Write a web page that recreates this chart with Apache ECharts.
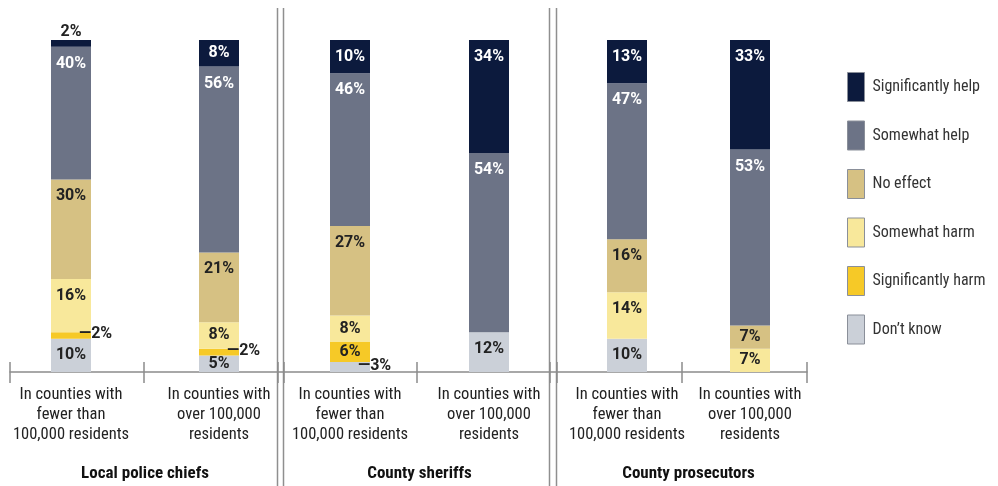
<!DOCTYPE html>
<html>
<head>
<meta charset="utf-8">
<script src="https://cdn.jsdelivr.net/npm/echarts@6/dist/echarts.min.js"></script>
<style>
  html, body { margin: 0; padding: 0; background: #fff; }
  #chart { width: 998px; height: 486px; }
</style>
</head>
<body>
<div id="chart"></div>
<script>
// Agencies (one panel each) and the two county-size bars inside every panel
const agencies = ['Local police chiefs', 'County sheriffs', 'County prosecutors'];
const countySizes = ['In counties with\nfewer than\n100,000 residents', 'In counties with\nover 100,000\nresidents'];
const responses = ['Significantly help', 'Somewhat help', 'No effect', 'Somewhat harm', 'Significantly harm', 'Don\u2019t know'];

// Share of respondents (%), bar order:
// police <100k, police >100k, sheriffs <100k, sheriffs >100k, prosecutors <100k, prosecutors >100k
const significantlyHelp = [2, 8, 10, 34, 13, 33];
const somewhatHelp      = [40, 56, 46, 54, 47, 53];
const noEffect          = [30, 21, 27, 0, 16, 7];
const somewhatHarm      = [16, 8, 8, 0, 14, 7];
const significantlyHarm = [2, 2, 6, 0, 0, 0];
const dontKnow          = [10, 5, 3, 12, 10, 0];

const valuesByResponse = {
  'Significantly help': significantlyHelp,
  'Somewhat help': somewhatHelp,
  'No effect': noEffect,
  'Somewhat harm': somewhatHarm,
  'Significantly harm': significantlyHarm,
  'Don\u2019t know': dontKnow
};
const colors = {
  'Significantly help': '#0c1a3d',
  'Somewhat help': '#6c7386',
  'No effect': '#d6c183',
  'Somewhat harm': '#f8e89b',
  'Significantly harm': '#f6c927',
  'Don\u2019t know': '#cbd0d8'
};
const darkSegments = ['Significantly help', 'Somewhat help'];
// bottom-to-top stacking order
const stackOrder = responses.slice().reverse();

const valueFont = "Roboto, 'Liberation Sans', sans-serif";
// Roboto's width axis, narrowed through fontStyle -> "condensed" in the canvas font string
const narrowFont = "Roboto, 'Liberation Sans', sans-serif";
const axisGrey = '#8c8c8c';

// panel layout: bar panels (centred on bars), tick panels (axis ticks)
const barPanels = [
  { left: -3, width: 296 },
  { left: 280.5, width: 278 },
  { left: 565.5, width: 246 }
];
const tickPanels = [
  { left: 10, width: 267.5 },
  { left: 283.5, width: 266 },
  { left: 556.5, width: 250.5 }
];
const plotTop = 40, plotHeight = 332;

function segmentLabel(v, name) {
  const base = { fontFamily: valueFont, fontWeight: 'bold', fontSize: 16 };
  if (!v) return { show: false };
  if (v < 4) {
    if (name === 'Significantly help') {
      return Object.assign(base, { show: true, position: 'top', distance: 0, color: '#222', formatter: '{c}%' });
    }
    return Object.assign(base, { show: true, position: 'right', distance: 0, offset: [-12, -1], color: '#222', formatter: '\u2014{c}%' });
  }
  return Object.assign(base, {
    show: true,
    position: v >= 12 ? 'insideTop' : 'inside',
    distance: 9,
    color: darkSegments.includes(name) ? '#ffffff' : '#222',
    formatter: '{c}%'
  });
}

function panelGrid(left, width) {
  return { left: left, width: width, top: plotTop, height: plotHeight, containLabel: false, outerBoundsMode: 'none' };
}

const grid = [];
const xAxis = [];
const yAxis = [];
const series = [];

// bar panels
agencies.forEach((agency, g) => {
  grid.push(panelGrid(barPanels[g].left, barPanels[g].width));
  xAxis.push({
    type: 'category', gridIndex: g, data: countySizes,
    axisLine: { show: false }, axisTick: { show: false },
    axisLabel: { interval: 0, margin: 13, lineHeight: 20, fontSize: 16.5, fontStyle: 'condensed', fontFamily: narrowFont, color: '#222' },
    name: agency, nameLocation: 'middle', nameGap: 93,
    nameTextStyle: { fontFamily: narrowFont, fontStyle: 'condensed', fontWeight: 'bold', fontSize: 17, color: '#111' }
  });
  yAxis.push({ type: 'value', gridIndex: g, min: 0, max: 100, show: false });
  stackOrder.forEach(name => {
    const vals = valuesByResponse[name].slice(2 * g, 2 * g + 2);
    series.push({
      type: 'bar', name: name, xAxisIndex: g, yAxisIndex: g, stack: 'panel' + g,
      barWidth: 40,
      itemStyle: { color: colors[name] },
      data: vals.map(v => ({ value: v, label: segmentLabel(v, name) })),
      emphasis: { disabled: true }
    });
  });
});

// continuous baseline under all panels
grid.push(panelGrid(10, 797));
xAxis.push({
  type: 'value', gridIndex: 3, min: 0, max: 1,
  axisLine: { show: true, lineStyle: { color: axisGrey, width: 1.5 } },
  axisTick: { show: false }, axisLabel: { show: false }, splitLine: { show: false }
});
yAxis.push({ type: 'value', gridIndex: 3, min: 0, max: 1, show: false });

// tick marks crossing the baseline at panel and bar boundaries
agencies.forEach((agency, g) => {
  const gi = 4 + g;
  grid.push(panelGrid(tickPanels[g].left, tickPanels[g].width));
  [false, true].forEach(inside => {
    xAxis.push({
      type: 'category', gridIndex: gi, position: 'bottom', data: countySizes,
      axisLine: { show: false }, axisLabel: { show: false },
      axisTick: { show: true, inside: inside, length: inside ? 10 : 11, lineStyle: { color: axisGrey, width: 1.5 } }
    });
  });
  yAxis.push({ type: 'value', gridIndex: gi, min: 0, max: 1, show: false });
});

const option = {
  animation: false,
  backgroundColor: '#ffffff',
  grid: grid,
  xAxis: xAxis,
  yAxis: yAxis,
  series: series,
  legend: {
    orient: 'vertical', left: 847, top: 72, padding: 0,
    itemWidth: 17, itemHeight: 29, itemGap: 18.5,
    icon: 'rect', selectedMode: false,
    data: responses,
    itemStyle: { borderColor: '#8a8f99', borderWidth: 1 },
    textStyle: { fontFamily: narrowFont, fontStyle: 'condensed', fontSize: 16, color: '#333', padding: [0, 0, 0, 3] }
  },
  graphic: [277.5, 283.5, 549.5, 556.5].map(x => ({
    type: 'line', silent: true,
    shape: { x1: x, y1: 8, x2: x, y2: 486 },
    style: { stroke: '#8f8f8f', lineWidth: 1.5 }
  }))
};

const chart = echarts.init(document.getElementById('chart'), null, { renderer: 'canvas' });
chart.setOption(option);
</script>
</body>
</html>
